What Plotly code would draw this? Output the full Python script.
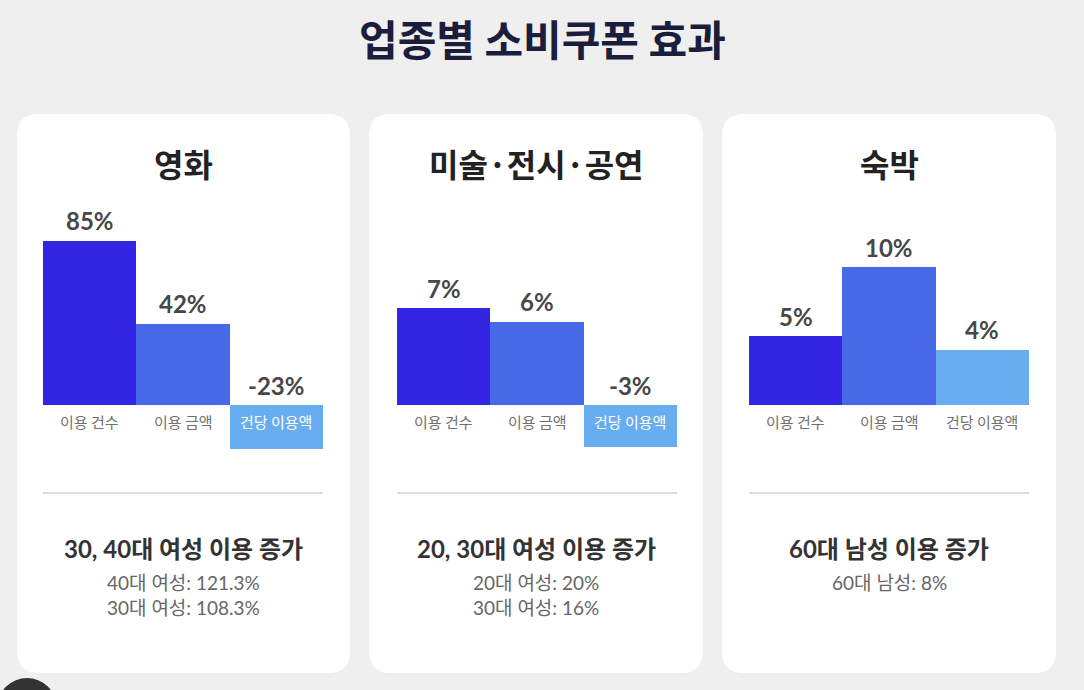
import plotly.graph_objects as go
from plotly.subplots import make_subplots

W, H = 1084, 690

main_title = "업종별 소비쿠폰 효과"
panel_titles = ["영화", "미술·전시·공연", "숙박"]
categories = ["이용 건수", "이용 금액", "건당 이용액"]
movie_vals = [85, 42, -23]
art_vals = [7, 6, -3]
stay_vals = [5, 10, 4]
headlines = ["30, 40대 여성 이용 증가", "20, 30대 여성 이용 증가", "60대 남성 이용 증가"]
details = [
    ["40대 여성: 121.3%", "30대 여성: 108.3%"],
    ["20대 여성: 20%", "30대 여성: 16%"],
    ["60대 남성: 8%"],
]
series = [movie_vals, art_vals, stay_vals]

bar_colors = ["#3326e2", "#4769e8", "#67adf0"]
FONT = "Lato, Noto Sans CJK KR"
KFONT = "Noto Sans CJK KR"


def px(x):
    return x / W


def py(y):
    return 1 - y / H


# card and chart geometry in pixels
cards = [(17, 350), (369, 703), (722, 1056)]
card_top, card_bot = 114, 673
plot_x = [(43, 323), (397, 677), (749, 1029)]
plot_top, plot_bot = 200, 460
baseline = 405
# pixels per unit for each panel
scales = [164 / 85, 97 / 7, 138 / 10]

fig = make_subplots(rows=1, cols=3)

shapes = []
annotations = []

# cards with rounded corners
for (x0, x1) in cards:
    r = 22
    rx, ry = r / W, r / H
    X0, X1, Y0, Y1 = px(x0), px(x1), py(card_bot), py(card_top)
    path = (f"M {X0+rx},{Y1} L {X1-rx},{Y1} Q {X1},{Y1} {X1},{Y1-ry} "
            f"L {X1},{Y0+ry} Q {X1},{Y0} {X1-rx},{Y0} "
            f"L {X0+rx},{Y0} Q {X0},{Y0} {X0},{Y0+ry} "
            f"L {X0},{Y1-ry} Q {X0},{Y1} {X0+rx},{Y1} Z")
    shapes.append(dict(type="path", path=path, xref="paper", yref="paper",
                       fillcolor="#ffffff", line=dict(width=0), layer="below"))

for i, vals in enumerate(series):
    col = i + 1
    fig.add_trace(go.Bar(x=categories, y=vals, marker=dict(color=bar_colors, line=dict(width=0)),
                         showlegend=False, hoverinfo="skip"), row=1, col=col)
    s = scales[i]
    yr = [-(plot_bot - baseline) / s, (baseline - plot_top) / s]
    ax = "" if col == 1 else str(col)
    fig.update_layout(**{
        f"xaxis{ax}": dict(domain=[px(plot_x[i][0]), px(plot_x[i][1])], range=[-0.5, 2.5],
                           visible=False, fixedrange=True),
        f"yaxis{ax}": dict(domain=[py(plot_bot), py(plot_top)], range=yr, visible=False,
                           fixedrange=True),
    })
    xref, yref = f"x{ax}", f"y{ax}"
    for c, v in zip(categories, vals):
        annotations.append(dict(x=c, y=max(v, 0), xref=xref, yref=yref, text=f"<b>{v}%</b>",
                                showarrow=False, yanchor="middle", yshift=20,
                                font=dict(family=FONT, size=24, color="#474747")))
        annotations.append(dict(x=c, y=0, xref=xref, yref=yref, text=c, showarrow=False,
                                yanchor="middle", yshift=-16,
                                font=dict(family=KFONT, size=15,
                                          color="#ffffff" if v < 0 else "#707070")))

    cx = px((cards[i][0] + cards[i][1]) / 2)
    annotations.append(dict(x=cx, y=py(163), xref="paper", yref="paper", xanchor="center",
                            yanchor="middle", text=f"<b>{panel_titles[i]}</b>", showarrow=False,
                            font=dict(family=KFONT, size=32, color="#222222")))
    shapes.append(dict(type="line", xref="paper", yref="paper", x0=px(plot_x[i][0]), x1=px(plot_x[i][1]),
                       y0=py(493), y1=py(493), line=dict(color="#dddddd", width=2)))
    annotations.append(dict(x=cx, y=py(548), xref="paper", yref="paper", xanchor="center",
                            yanchor="middle", text=f"<b>{headlines[i]}</b>", showarrow=False,
                            font=dict(family=FONT, size=24, color="#333333")))
    for j, d in enumerate(details[i]):
        annotations.append(dict(x=cx, y=py(582 + 25 * j), xref="paper", yref="paper", xanchor="center",
                                yanchor="middle", text=d, showarrow=False,
                                font=dict(family=FONT, size=19, color="#666666")))

annotations.append(dict(x=0.5, y=py(38), xref="paper", yref="paper", xanchor="center",
                        yanchor="middle", text=f"<b>{main_title}</b>", showarrow=False,
                        font=dict(family=KFONT, size=42, color="#1b1d3c")))

# dark circle in bottom-left corner
shapes.append(dict(type="circle", xref="paper", yref="paper", x0=px(-2), x1=px(56),
                   y0=py(734), y1=py(678), fillcolor="#333333", line=dict(width=0)))

fig.update_layout(
    width=W, height=H,
    margin=dict(l=0, r=0, t=0, b=0),
    paper_bgcolor="#efefef",
    plot_bgcolor="rgba(0,0,0,0)",
    bargap=0,
    shapes=shapes,
    annotations=annotations,
)

fig.write_html("out.html", config={"displayModeBar": False},
               post_script="document.body.style.margin='0';")
